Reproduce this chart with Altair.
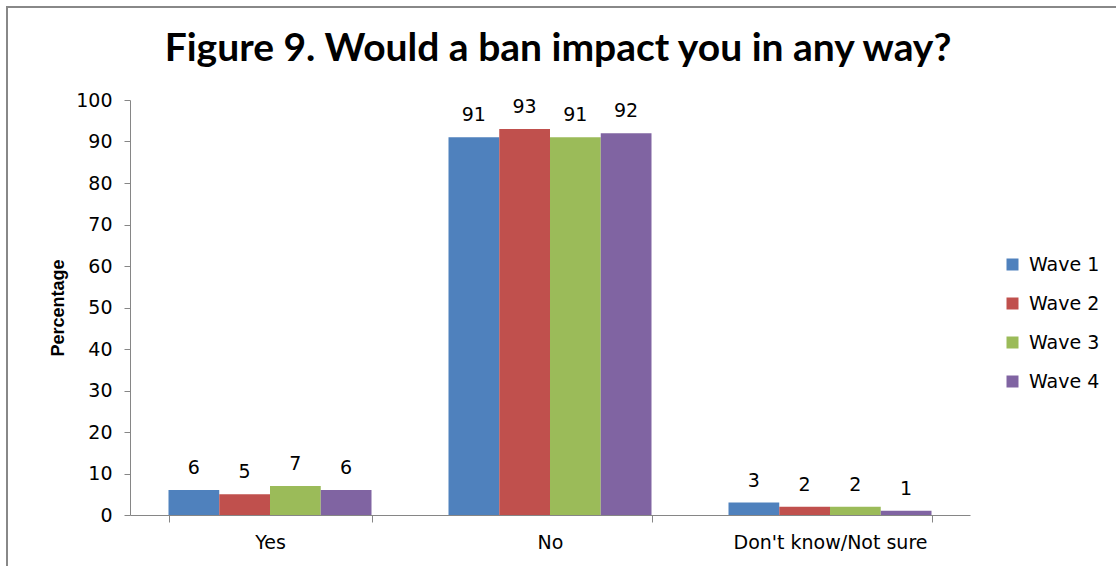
import altair as alt
import pandas as pd

categories = ["Yes", "No", "Don't know/Not sure"]
waves = ["Wave 1", "Wave 2", "Wave 3", "Wave 4"]
wave1 = [6, 91, 3]
wave2 = [5, 93, 2]
wave3 = [7, 91, 2]
wave4 = [6, 92, 1]
colors = ["#4F81BD", "#C0504D", "#9BBB59", "#8064A2"]
y_ticks = list(range(0, 101, 10))

rows = []
for w, vals in zip(waves, [wave1, wave2, wave3, wave4]):
    for c, v in zip(categories, vals):
        rows.append({"category": c, "wave": w, "value": v})
df = pd.DataFrame(rows)

base = alt.Chart(df).encode(
    x=alt.X(
        "category:N",
        sort=categories,
        scale=alt.Scale(paddingInner=0.275, paddingOuter=0.1375),
        axis=alt.Axis(
            title=None,
            labelAngle=0,
            labelLimit=0,
            tickBand="extent",
            grid=False,
            domainColor="#868686",
            tickColor="#868686",
            tickSize=7,
            labelFont="DejaVu Sans",
            labelFontSize=19,
            labelColor="#000000",
            labelPadding=11,
        ),
    ),
    xOffset=alt.XOffset("wave:N", sort=waves, scale=alt.Scale(paddingInner=0, paddingOuter=0)),
    y=alt.Y(
        "value:Q",
        scale=alt.Scale(domain=[0, 100], nice=False),
        axis=alt.Axis(
            title="Percentage",
            values=y_ticks,
            grid=False,
            domainColor="#868686",
            tickColor="#868686",
            tickSize=6,
            labelFont="DejaVu Sans",
            labelFontSize=19,
            labelColor="#000000",
            labelPadding=12,
            titleFont="Liberation Sans",
            titleFontSize=18,
            titleFontWeight="bold",
            titleColor="#000000",
            titlePadding=8,
        ),
    ),
)

bars = base.mark_bar().encode(
    color=alt.Color(
        "wave:N",
        sort=waves,
        scale=alt.Scale(domain=waves, range=colors),
        legend=alt.Legend(
            title=None,
            orient="none",
            legendX=873,
            legendY=155,
            symbolType="square",
            symbolSize=144,
            symbolStrokeWidth=0,
            labelFont="DejaVu Sans",
            labelFontSize=19,
            labelColor="#000000",
            rowPadding=19,
            labelOffset=7,
        ),
    )
)

labels = base.mark_text(
    baseline="bottom", dy=-12, font="DejaVu Sans", fontSize=19, color="#000000"
).encode(text="value:Q")

frame_df = pd.DataFrame({"k": [0]})
frame = alt.Chart(frame_df).mark_rect(
    fill="transparent", stroke="#888888", strokeWidth=2
).encode(
    x=alt.value(-123), x2=alt.value(1200), y=alt.value(-93), y2=alt.value(600)
)

chart = (
    alt.layer(bars, labels, frame)
    .properties(
        width=840,
        height=415,
        background="white",
        padding={"left": 130, "top": 100, "right": 146, "bottom": 51},
        autosize=alt.AutoSizeParams(type="none"),
        title=alt.TitleParams(
            "Figure 9. Would a ban impact you in any way?",
            font="Lato",
            fontSize=39,
            fontWeight="bold",
            color="#000000",
            anchor="middle",
            frame="group",
            offset=0,
            dx=8,
            dy=63,
        ),
    )
    .configure_view(strokeWidth=0, strokeOpacity=0, stroke=None, fill=None)
)

chart.save("out.html", embed_options={"renderer": "svg", "actions": False})
